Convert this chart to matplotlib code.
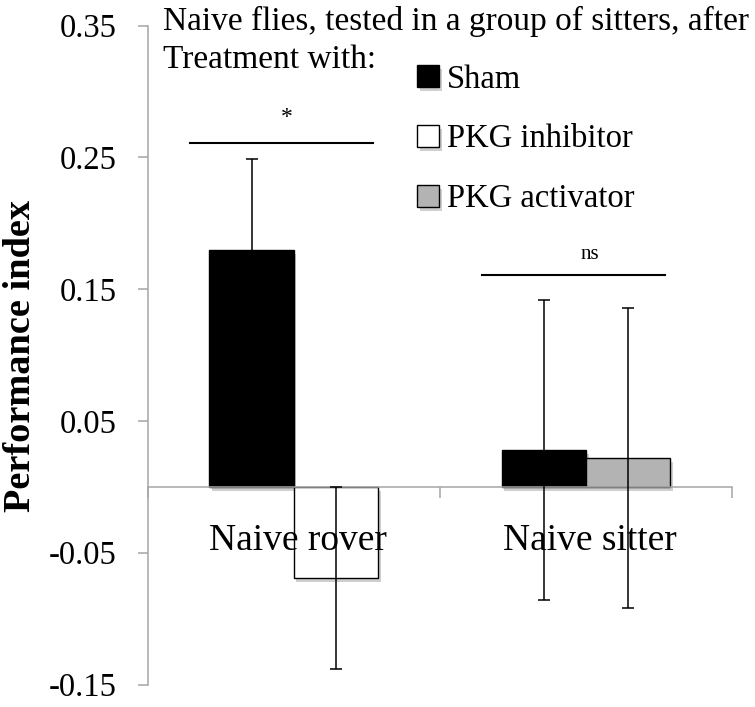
import numpy as np
import matplotlib
matplotlib.use("Agg")
import matplotlib.pyplot as plt
import matplotlib.patheffects as pe

plt.rcParams['font.family'] = ['Liberation Serif', 'DejaVu Serif']

categories = ['Naive rover', 'Naive sitter']
series_names = ['Sham', 'PKG inhibitor', 'PKG activator']
sham = [0.180, 0.028]
sham_err = [0.069, 0.114]
inhibitor = [-0.069, np.nan]
inhibitor_err = [0.069, np.nan]
activator = [np.nan, 0.022]
activator_err = [np.nan, 0.114]
yticks = [-0.15, -0.05, 0.05, 0.15, 0.25, 0.35]
ytick_labels = ['-0.15', '-0.05', '0.05', '0.15', '0.25', '0.35']
title_lines = ['Naive flies, tested in a group of sitters, after', 'Treatment with:']
ylabel = 'Performance index'
sig_labels = ['*', 'ns']
sig_heights = [0.261, 0.161]

colors = ['#000000', '#ffffff', '#b3b3b3']
values = [sham, inhibitor, activator]
errors = [sham_err, inhibitor_err, activator_err]

fig = plt.figure(figsize=(7.55, 7.07), dpi=100)
ax = fig.add_axes([147.5 / 755, 22.5 / 707, (732 - 147.5) / 755, (684.5 - 25.7) / 707])

width = 0.288
shadow = [pe.SimplePatchShadow(offset=(2, -3), shadow_rgbFace='#888888', alpha=0.4), pe.Normal()]
handles = [None] * 3
for ci in range(len(categories)):
    present = [si for si in range(3) if not np.isnan(values[si][ci])]
    n = len(present)
    for k, si in enumerate(present):
        x = ci + (k - (n - 1) / 2) * width
        b = ax.bar(x, values[si][ci], width=width, color=colors[si], edgecolor='black',
                   linewidth=1.0, zorder=2)
        for p in b:
            p.set_path_effects(shadow)
        handles[si] = b
        ax.errorbar(x, values[si][ci], yerr=errors[si][ci], fmt='none', ecolor='black',
                    elinewidth=1.1, capsize=4.5, capthick=1.1, zorder=3)

# significance lines and labels
line_span = (-0.355, 0.27)
label_dx = [-0.025, 0.012]
label_dy = [0.011, 0.008]
for ci in range(len(categories)):
    ax.plot([ci + line_span[0], ci + line_span[1]], [sig_heights[ci]] * 2,
            color='black', lw=1.5, zorder=3)
    ax.text(ci + label_dx[ci], sig_heights[ci] + label_dy[ci], sig_labels[ci],
            ha='center', va='bottom', fontsize=17 if ci == 0 else 15)

ax.set_xlim(-0.5, 1.5)
ax.set_ylim(-0.15, 0.35)
ax.set_yticks(yticks)
ax.set_yticklabels(ytick_labels)
ax.tick_params(axis='y', direction='out', length=7, width=1.1, color='#a6a6a6',
               labelsize=23.5, pad=15)
ax.set_xticks([-0.5, 0.5, 1.5])
ax.set_xticklabels([])
ax.tick_params(axis='x', direction='out', length=8, width=1.1, color='#a6a6a6')
for s in ['top', 'right']:
    ax.spines[s].set_visible(False)
ax.spines['bottom'].set_position(('data', 0))
ax.spines['bottom'].set_color('#a6a6a6')
ax.spines['bottom'].set_linewidth(1.1)
ax.spines['left'].set_color('#a6a6a6')
ax.spines['left'].set_linewidth(1.1)
ax.spines['left'].set_zorder(1)

for ci, c in enumerate(categories):
    ax.text(ci + 0.015, -0.041, c, ha='center', va='center', fontsize=27, zorder=4)

fig.text(21 / 755, 1 - 356 / 707, ylabel, rotation=90, ha='center', va='center',
         fontsize=27.6, fontweight='bold')

for i, line in enumerate(title_lines):
    fig.text(163 / 755, 1 - (30 + 38 * i) / 707, line, ha='left', va='baseline',
             fontsize=24)

leg = ax.legend([handles[0], handles[1], handles[2]], series_names, loc='upper left',
                bbox_to_anchor=(417 / 755, 1 - 64 / 707), bbox_transform=fig.transFigure,
                frameon=False, fontsize=23.5, handlelength=0.68, handleheight=0.68,
                handletextpad=0.25, labelspacing=0.9, borderpad=0, borderaxespad=0)

fig.savefig('out.png', dpi=100)
